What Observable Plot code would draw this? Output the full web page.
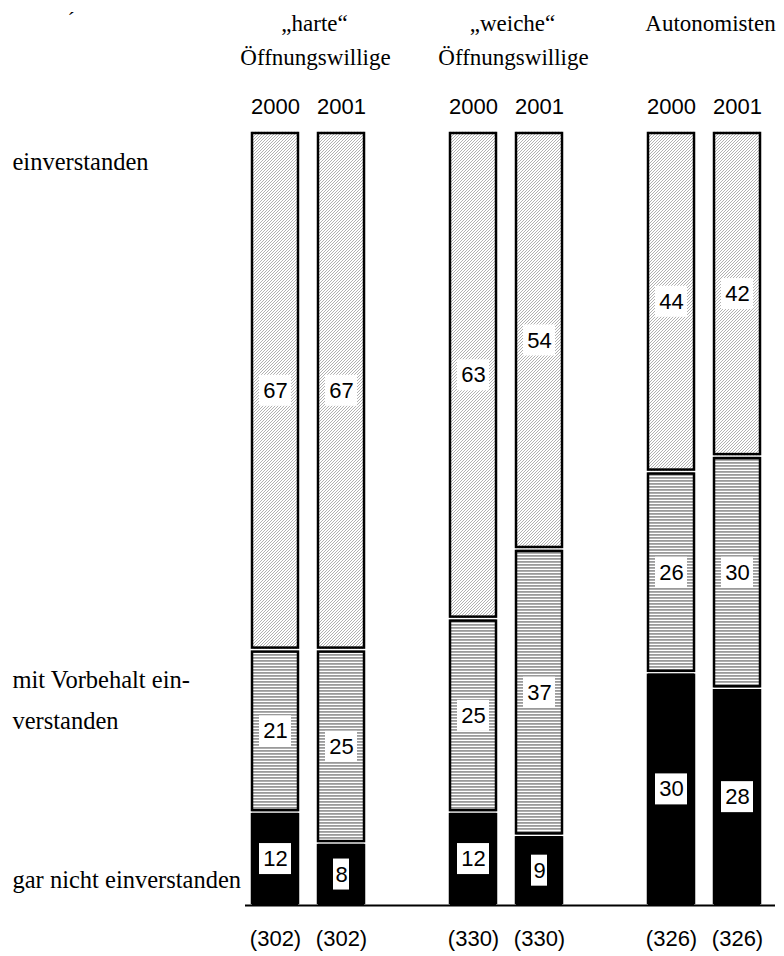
<!DOCTYPE html>
<html>
<head>
<meta charset="utf-8">
<script src="https://cdn.jsdelivr.net/npm/d3@7"></script>
<script src="https://cdn.jsdelivr.net/npm/@observablehq/plot@0.6"></script>
<style>
  html, body { margin: 0; padding: 0; background: #fff; }
  g[aria-label="years"] text, g[aria-label="ncases"] text { letter-spacing: 0.8px; }
  g[aria-label="groups1"] text, g[aria-label="groups2"] text { letter-spacing: 0.6px; }
  g[aria-label="cats"] text { letter-spacing: 0.3px; }
</style>
</head>
<body>
<div id="chart"></div>
<script>
// ---- data ----
const groupTitle1 = ["„harte“", "„weiche“", "Autonomisten"];
const groupTitle2 = ["Öffnungswillige", "Öffnungswillige", ""];
const years = ["2000", "2001"];
// one value per bar: harte 2000, harte 2001, weiche 2000, weiche 2001, Autonomisten 2000, Autonomisten 2001
const einverstanden = [67, 67, 63, 54, 44, 42];
const mitVorbehalt = [21, 25, 25, 37, 26, 30];
const garNicht = [12, 8, 12, 9, 30, 28];
const nCases = [302, 302, 330, 330, 326, 326];
const categoryLabels = ["einverstanden", "mit Vorbehalt ein-\nverstanden", "gar nicht einverstanden"];

// ---- table built from the arrays ----
const bars = einverstanden.map((_, i) => {
  const g = Math.floor(i / 2), yr = i % 2;
  return {i, group: g, year: years[yr], slot: g * 3 + yr, n: nCases[i]};
});
const stackOrder = [
  {key: "gar", values: garNicht},
  {key: "vorbehalt", values: mitVorbehalt},
  {key: "einv", values: einverstanden}
];
const rows = [];
for (const b of bars) {
  let base = 0;
  for (const c of stackOrder) {
    const v = c.values[b.i];
    rows.push({slot: b.slot, cat: c.key, value: v, y1: base, y2: base + v, mid: base + v / 2, label: String(v)});
    base += v;
  }
}
const heads = groupTitle1.map((t, g) => ({slot: g * 3, t1: t, t2: groupTitle2[g]}));

const serif = "'Liberation Serif', 'Times New Roman', serif";
const sans = "'Liberation Sans', Arial, Helvetica, sans-serif";

const plot = Plot.plot({
  width: 784,
  height: 956,
  marginTop: 131,
  marginBottom: 51,
  marginLeft: 245,
  marginRight: 16,
  style: {background: "white", overflow: "visible"},
  x: {type: "band", domain: d3.range(8), paddingInner: 0.3, paddingOuter: 0.075, axis: null},
  y: {domain: [0, 100], axis: null},
  marks: [
    Plot.barY(rows, {filter: d => d.cat === "einv", x: "slot", y1: "y1", y2: "y2", fill: "url(#diagHatch)", insetTop: 0.75, insetBottom: 0.75}),
    Plot.barY(rows, {filter: d => d.cat === "vorbehalt", x: "slot", y1: "y1", y2: "y2", fill: "url(#horizHatch)", insetTop: 0.75, insetBottom: 0.75}),
    Plot.barY(rows, {filter: d => d.cat === "gar", x: "slot", y1: "y1", y2: "y2", fill: "black", insetTop: 0.75}),
    Plot.barY(rows, {x: "slot", y1: "y1", y2: "y2", fill: "none", stroke: "black", strokeWidth: 2.5, insetTop: 2, insetBottom: 2}),
    Plot.ruleY([0], {stroke: "black", strokeWidth: 2, insetRight: -7}),
    // white label boxes
    Plot.barY(rows, {filter: d => d.label.length > 1, x: "slot", y1: "mid", y2: "mid", fill: "white", insetLeft: 7, insetRight: 7, insetTop: -15.5, insetBottom: -15.5}),
    Plot.barY(rows, {filter: d => d.label.length === 1, x: "slot", y1: "mid", y2: "mid", fill: "white", insetLeft: 15, insetRight: 15, insetTop: -15.5, insetBottom: -15.5}),
    Plot.text(rows, {x: "slot", y: "mid", text: "label", fill: "black", fontSize: 22, fontFamily: sans}),
    // year labels
    Plot.text(bars, {x: "slot", text: "year", frameAnchor: "top", dy: -33, fontSize: 22, fontFamily: sans, fill: "black", ariaLabel: "years"}),
    // case numbers
    Plot.text(bars, {x: "slot", text: d => `(${d.n})`, frameAnchor: "bottom", dy: 40, fontSize: 22, fontFamily: sans, fill: "black", ariaLabel: "ncases"}),
    // group headers
    Plot.text(heads, {x: "slot", text: "t1", frameAnchor: "top", dx: 39, dy: -117, fontSize: 23, fontFamily: serif, fill: "black", ariaLabel: "groups1"}),
    Plot.text(heads, {x: "slot", text: "t2", frameAnchor: "top", dx: 40, dy: -83, fontSize: 23, fontFamily: serif, fill: "black", ariaLabel: "groups2"}),
    // category labels at the left
    Plot.text([categoryLabels[0]], {text: d => d, frameAnchor: "top-left", textAnchor: "start", dx: -233, dy: 21, fontSize: 24.5, fontFamily: serif, fill: "black", ariaLabel: "cats"}),
    Plot.text([categoryLabels[1]], {text: d => d, frameAnchor: "top-left", textAnchor: "start", dx: -233, dy: 528, lineHeight: 1.65, fontSize: 24.5, fontFamily: serif, fill: "black", ariaLabel: "cats"}),
    Plot.text([categoryLabels[2]], {text: d => d, frameAnchor: "bottom-left", textAnchor: "start", dx: -233, dy: -18, fontSize: 24.5, fontFamily: serif, fill: "black", ariaLabel: "cats"}),
    Plot.text(["´"], {text: d => d, frameAnchor: "top-left", textAnchor: "start", dx: -178, dy: -120, fontSize: 22, fontFamily: serif, fill: "black"})
  ]
});

// hatch patterns referenced by the bar fills
const svg = d3.select(plot);
const defs = svg.insert("defs", ":first-child");
const diag = defs.append("pattern").attr("id", "diagHatch").attr("patternUnits", "userSpaceOnUse")
  .attr("width", 3).attr("height", 3);
diag.append("rect").attr("width", 3).attr("height", 3).attr("fill", "white");
diag.append("path").attr("d", "M-1,1 l2,-2 M0,3 l3,-3 M2,4 l2,-2").attr("stroke", "#a8a8a8").attr("stroke-width", 0.9);
const horiz = defs.append("pattern").attr("id", "horizHatch").attr("patternUnits", "userSpaceOnUse")
  .attr("width", 4).attr("height", 3);
horiz.append("rect").attr("width", 4).attr("height", 3).attr("fill", "white");
horiz.append("rect").attr("y", 0).attr("width", 4).attr("height", 1.8).attr("fill", "#9a9a9a");

document.getElementById("chart").appendChild(plot);
</script>
</body>
</html>
